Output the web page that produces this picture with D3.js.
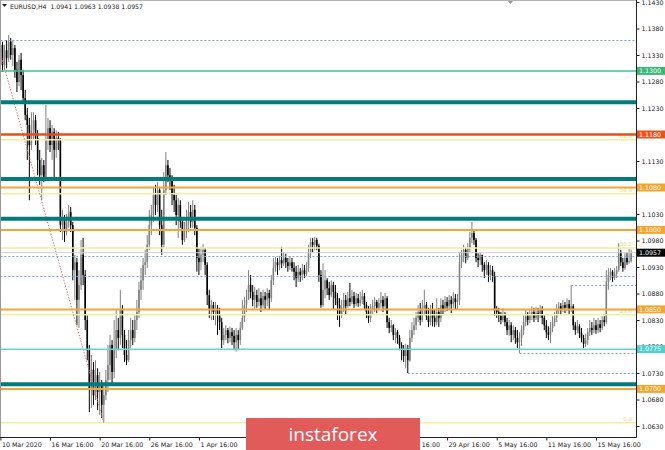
<!DOCTYPE html>
<html><head><meta charset="utf-8">
<script src="https://cdn.jsdelivr.net/npm/d3@7"></script>
<style>
html,body{margin:0;padding:0;background:#fff;}
svg{display:block;font-family:"DejaVu Sans",sans-serif;}
</style>
</head><body>
<svg id="chart" width="665" height="450"></svg>
<script>
// ---------------- DATA ----------------
const symbol = "EURUSD,H4";
const firstOpen = 1.1321;
const closes = [
1.1349,1.1311,1.1339,1.1324,1.1355,1.1330,1.1343,1.1302,1.1279,1.1321,
1.1292,1.1249,1.1217,1.1198,1.1160,1.1188,1.1207,1.1173,1.1132,1.1103,
1.1122,1.1098,1.1170,1.1192,1.1160,1.1185,1.1151,1.1173,1.1170,1.1009,
1.1022,1.0996,1.1015,1.1034,1.1009,1.0924,1.0939,1.0868,1.0896,1.0953,
1.0915,1.0830,1.0773,1.0698,1.0736,1.0688,1.0726,1.0694,1.0707,1.0670,
1.0688,1.0717,1.0745,1.0783,1.0732,1.0773,1.0811,1.0796,1.0849,1.0802,
1.0764,1.0754,1.0792,1.0811,1.0796,1.0830,1.0845,1.0887,1.0905,1.0934,
1.0939,1.0972,1.1009,1.1028,1.1066,1.1047,1.1075,1.1009,1.0972,1.1075,
1.1122,1.1103,1.1094,1.1066,1.1056,1.1028,1.1047,1.1015,1.0981,1.1000,
1.1022,1.1034,1.1015,1.1038,1.1004,1.0947,1.0939,1.0953,1.0962,1.0934,
1.0877,1.0849,1.0858,1.0845,1.0853,1.0839,1.0826,1.0792,1.0802,1.0811,
1.0796,1.0807,1.0800,1.0788,1.0802,1.0792,1.0815,1.0834,1.0858,1.0868,
1.0896,1.0883,1.0868,1.0877,1.0864,1.0871,1.0858,1.0875,1.0868,1.0881,
1.0871,1.0905,1.0928,1.0939,1.0934,1.0943,1.0937,1.0947,1.0939,1.0932,
1.0939,1.0928,1.0921,1.0909,1.0921,1.0915,1.0924,1.0917,1.0928,1.0958,
1.0977,1.0972,1.0981,1.0970,1.0915,1.0858,1.0887,1.0905,1.0890,1.0877,
1.0896,1.0883,1.0871,1.0858,1.0839,1.0853,1.0868,1.0856,1.0871,1.0864,
1.0875,1.0860,1.0871,1.0862,1.0868,1.0875,1.0858,1.0845,1.0834,1.0849,
1.0856,1.0864,1.0853,1.0862,1.0868,1.0856,1.0871,1.0826,1.0815,1.0820,
1.0802,1.0807,1.0796,1.0783,1.0773,1.0762,1.0777,1.0754,1.0796,1.0811,
1.0820,1.0834,1.0845,1.0830,1.0853,1.0858,1.0837,1.0826,1.0849,1.0834,
1.0826,1.0845,1.0834,1.0858,1.0849,1.0864,1.0856,1.0868,1.0860,1.0871,
1.0864,1.0868,1.0939,1.0953,1.0962,1.0947,1.0966,1.0985,1.0994,1.0981,
1.0947,1.0943,1.0953,1.0934,1.0924,1.0934,1.0915,1.0924,1.0913,1.0849,
1.0845,1.0838,1.0830,1.0841,1.0826,1.0811,1.0820,1.0802,1.0811,1.0796,
1.0788,1.0796,1.0811,1.0826,1.0838,1.0830,1.0839,1.0845,1.0834,1.0843,
1.0838,1.0849,1.0834,1.0820,1.0807,1.0802,1.0815,1.0826,1.0834,1.0849,
1.0856,1.0849,1.0858,1.0853,1.0860,1.0849,1.0856,1.0820,1.0811,1.0818,
1.0805,1.0796,1.0785,1.0792,1.0807,1.0815,1.0811,1.0820,1.0811,1.0822,
1.0815,1.0830,1.0826,1.0902,1.0915,1.0921,1.0909,1.0917,1.0924,1.0958,
1.0939,1.0928,1.0947,1.0939,1.0941,1.0957];
const highs = [
1.1373,1.1355,1.1349,1.1358,1.1368,1.1362,1.1358,1.1349,1.1317,1.1330,
1.1334,1.1302,1.1264,1.1230,1.1211,1.1222,1.1222,1.1217,1.1188,1.1151,
1.1136,1.1132,1.1236,1.1211,1.1207,1.1198,1.1192,1.1188,1.1185,1.1173,
1.1038,1.1028,1.1030,1.1047,1.1043,1.1015,1.0953,1.0947,1.0924,1.0981,
1.0985,1.0924,1.0839,1.0783,1.0764,1.0751,1.0754,1.0739,1.0732,1.0717,
1.0711,1.0736,1.0783,1.0802,1.0792,1.0830,1.0849,1.0834,1.0887,1.0858,
1.0811,1.0792,1.0811,1.0834,1.0830,1.0839,1.0868,1.0902,1.0928,1.0947,
1.0962,1.0990,1.1038,1.1047,1.1079,1.1085,1.1090,1.1079,1.1038,1.1109,
1.1147,1.1132,1.1117,1.1103,1.1085,1.1066,1.1060,1.1056,1.1022,1.1015,
1.1038,1.1053,1.1047,1.1056,1.1047,1.1009,1.0966,1.0968,1.0973,1.0966,
1.0939,1.0887,1.0868,1.0864,1.0864,1.0858,1.0853,1.0834,1.0815,1.0820,
1.0815,1.0818,1.0815,1.0811,1.0815,1.0811,1.0826,1.0868,1.0873,1.0887,
1.0924,1.0915,1.0896,1.0892,1.0887,1.0890,1.0883,1.0887,1.0883,1.0890,
1.0887,1.0915,1.0947,1.0949,1.0947,1.0951,1.0968,1.0958,1.0955,1.0947,
1.0951,1.0947,1.0939,1.0932,1.0934,1.0928,1.0936,1.0934,1.0939,1.0972,
1.0985,1.0985,1.0987,1.0985,1.0974,1.0924,1.0937,1.0924,1.0909,1.0902,
1.0905,1.0902,1.0896,1.0881,1.0871,1.0868,1.0881,1.0877,1.0883,1.0900,
1.0887,1.0883,1.0881,1.0879,1.0883,1.0887,1.0881,1.0864,1.0856,1.0860,
1.0868,1.0873,1.0868,1.0871,1.0883,1.0875,1.0881,1.0875,1.0834,1.0830,
1.0822,1.0815,1.0811,1.0802,1.0788,1.0783,1.0785,1.0783,1.0811,1.0826,
1.0834,1.0845,1.0858,1.0862,1.0868,1.0887,1.0864,1.0853,1.0858,1.0862,
1.0849,1.0871,1.0853,1.0871,1.0868,1.0875,1.0873,1.0877,1.0875,1.0883,
1.0879,1.0879,1.0956,1.0962,1.0972,1.0966,1.0975,1.0996,1.1015,1.1000,
1.0985,1.0956,1.0958,1.0953,1.0939,1.0943,1.0939,1.0934,1.0932,1.0921,
1.0856,1.0853,1.0845,1.0853,1.0845,1.0834,1.0830,1.0826,1.0820,1.0817,
1.0811,1.0807,1.0820,1.0839,1.0849,1.0845,1.0849,1.0856,1.0853,1.0855,
1.0853,1.0858,1.0856,1.0839,1.0830,1.0818,1.0826,1.0837,1.0845,1.0860,
1.0864,1.0862,1.0868,1.0864,1.0871,1.0868,1.0896,1.0860,1.0826,1.0830,
1.0822,1.0815,1.0802,1.0804,1.0815,1.0830,1.0826,1.0834,1.0830,1.0834,
1.0830,1.0837,1.0837,1.0924,1.0928,1.0928,1.0924,1.0928,1.0932,1.0975,
1.0962,1.0947,1.0956,1.0958,1.0964,1.0963];
const lows = [
1.1292,1.1298,1.1302,1.1305,1.1317,1.1321,1.1309,1.1287,1.1260,1.1271,
1.1264,1.1241,1.1207,1.1132,1.1056,1.1151,1.1170,1.1160,1.1103,1.1085,
1.1056,1.1090,1.1094,1.1151,1.1147,1.1132,1.1098,1.1136,1.1151,1.0996,
1.0981,1.0977,1.0990,1.1004,1.0996,1.0905,1.0868,1.0820,1.0815,1.0887,
1.0896,1.0811,1.0754,1.0656,1.0664,1.0670,1.0679,1.0660,1.0651,1.0645,
1.0636,1.0679,1.0694,1.0717,1.0707,1.0720,1.0758,1.0773,1.0783,1.0777,
1.0751,1.0745,1.0751,1.0777,1.0783,1.0788,1.0811,1.0834,1.0868,1.0887,
1.0915,1.0928,1.0962,1.0990,1.1015,1.1028,1.1034,1.0990,1.0953,1.0966,
1.1066,1.1090,1.1075,1.1047,1.1034,1.1009,1.0985,1.1004,1.0972,1.0977,
1.0985,1.0996,1.1004,1.1004,1.0990,1.0921,1.0915,1.0924,1.0939,1.0915,
1.0858,1.0834,1.0830,1.0830,1.0820,1.0802,1.0811,1.0777,1.0783,1.0792,
1.0786,1.0788,1.0783,1.0773,1.0770,1.0773,1.0783,1.0811,1.0826,1.0845,
1.0868,1.0871,1.0856,1.0849,1.0853,1.0856,1.0845,1.0853,1.0849,1.0856,
1.0849,1.0864,1.0896,1.0921,1.0915,1.0924,1.0928,1.0932,1.0928,1.0921,
1.0924,1.0921,1.0905,1.0892,1.0902,1.0902,1.0905,1.0909,1.0913,1.0921,
1.0947,1.0958,1.0962,1.0962,1.0902,1.0853,1.0855,1.0871,1.0877,1.0868,
1.0873,1.0849,1.0858,1.0830,1.0817,1.0834,1.0845,1.0841,1.0853,1.0856,
1.0860,1.0853,1.0856,1.0855,1.0856,1.0860,1.0849,1.0834,1.0824,1.0826,
1.0839,1.0845,1.0843,1.0849,1.0853,1.0845,1.0849,1.0815,1.0805,1.0807,
1.0792,1.0786,1.0785,1.0773,1.0754,1.0751,1.0739,1.0730,1.0751,1.0788,
1.0802,1.0811,1.0826,1.0820,1.0826,1.0839,1.0830,1.0817,1.0820,1.0818,
1.0817,1.0820,1.0817,1.0826,1.0839,1.0845,1.0847,1.0849,1.0843,1.0853,
1.0849,1.0849,1.0858,1.0928,1.0939,1.0937,1.0943,1.0958,1.0975,1.0972,
1.0939,1.0930,1.0934,1.0921,1.0909,1.0915,1.0902,1.0905,1.0902,1.0838,
1.0834,1.0826,1.0822,1.0826,1.0818,1.0802,1.0800,1.0788,1.0792,1.0785,
1.0777,1.0768,1.0781,1.0802,1.0818,1.0820,1.0824,1.0830,1.0826,1.0830,
1.0826,1.0834,1.0822,1.0811,1.0796,1.0792,1.0786,1.0807,1.0818,1.0826,
1.0841,1.0839,1.0845,1.0843,1.0847,1.0841,1.0845,1.0811,1.0802,1.0805,
1.0796,1.0788,1.0777,1.0779,1.0783,1.0800,1.0802,1.0805,1.0804,1.0805,
1.0807,1.0811,1.0818,1.0822,1.0887,1.0905,1.0902,1.0905,1.0909,1.0921,
1.0932,1.0921,1.0924,1.0934,1.0936,1.0938];

// time-axis labels visible in the picture (the ones hidden under the logo are omitted)
const xTickIndex  = [0, 24, 48, 72, 96, 192, 216, 240, 264, 288];
const xTickLabels = ["10 Mar 2020","16 Mar 16:00","20 Mar 16:00","26 Mar 16:00","1 Apr 16:00",
                     "23 Apr 16:00","29 Apr 16:00","5 May 16:00","11 May 16:00","15 May 16:00"];
const yTicks = [1.1430,1.1380,1.1330,1.1280,1.1230,1.1130,1.1030,1.0980,
                1.0930,1.0880,1.0830,1.0780,1.0730,1.0680,1.0630];

// horizontal levels
const levelPrices = [1.1300, 1.1241, 1.1180, 1.1096, 1.1080, 1.1021, 1.1000, 1.0850, 1.0775, 1.0709, 1.0700];
const levelKinds  = ["green","teal","red","teal","orange","teal","orange","orange","cyan","teal","orange"];
const labelledLevels = [1.1300, 1.1180, 1.1080, 1.1000, 1.0850, 1.0775, 1.0700];
const labelledKinds  = ["green","red","orange","orange","orange","cyan","orange"];
// dotted reference lines (start bar index)
const dottedPrices = [1.1358, 1.0950, 1.0913, 1.0896, 1.0768, 1.0730];
const dottedStart  = [0, 0, 0, 276, 251, 197];
// Fibonacci retracement
const fibLevels = [0, 23.6, 38.2, 50.0, 61.8, 100];
const fibLowPrice = 1.0636, fibHighPrice = 1.1500;
const fibLowIndex = 50, fibHighIndex = -12;
const logoText = "instaforex";

// ---------------- STYLES ----------------
const kindColor = {green:"#45c28a", teal:"#047b7b", red:"#e2511c", orange:"#f2a633", cyan:"#66d4d2"};
const kindWidth = {green:1.5, teal:4, red:2.5, orange:2, cyan:1.5};
const boxColor  = {green:"#3cb878", red:"#e8531c", orange:"#f5a52a", cyan:"#4fd0cc"};

const W = 665, H = 450, plotR = 636, plotB = 437;
const svg = d3.select("#chart");
const n = closes.length;
const opens = closes.map((c,i)=> i===0 ? firstOpen : closes[i-1]);

const x = d3.scaleLinear().domain([0, n-1]).range([0.4, 0.4 + (n-1)*2.068]);
const y = d3.scaleLinear().domain([1.0630, 1.1430]).range([426, 2]);

svg.append("rect").attr("width",W).attr("height",H).attr("fill","#fff");

svg.append("defs").append("clipPath").attr("id","plot")
  .append("rect").attr("x",0).attr("y",0).attr("width",plotR).attr("height",plotB);

const plot = svg.append("g").attr("clip-path","url(#plot)");

// candles
const cg = plot.append("g");
d3.range(n).forEach(i=>{
  const o=opens[i], c=closes[i];
  const hi=Math.max(highs[i],o,c), lo=Math.min(lows[i],o,c);
  const col = c>=o ? "#808080" : "#000";
  const cx = x(i);
  cg.append("line").attr("x1",cx).attr("x2",cx).attr("y1",y(hi)).attr("y2",y(lo))
    .attr("stroke",col).attr("stroke-width",1);
  const top=y(Math.max(o,c)), bot=y(Math.min(o,c));
  cg.append("rect").attr("x",cx-0.8).attr("width",1.6)
    .attr("y",top).attr("height",Math.max(0.8,bot-top)).attr("fill",col);
});

// dotted lines
dottedPrices.forEach((p,k)=>{
  plot.append("line").attr("x1",x(dottedStart[k])).attr("x2",plotR)
    .attr("y1",Math.round(y(p))+0.5).attr("y2",Math.round(y(p))+0.5)
    .attr("stroke","#7fa8cc").attr("stroke-width",1).attr("stroke-dasharray","2,2");
});

// fib levels
const fibPrice = r => fibLowPrice + (fibHighPrice-fibLowPrice)*r/100;
fibLevels.forEach(r=>{
  const yy = y(fibPrice(r));
  plot.append("line").attr("x1",0).attr("x2",plotR).attr("y1",yy).attr("y2",yy)
    .attr("stroke","#f2eea0").attr("stroke-width",1.5);
  if (yy > 8) {
    plot.append("text").attr("x",632).attr("y",yy-2).attr("text-anchor","end")
      .attr("font-size",5.5).attr("fill","#e6dc6c").text(r.toFixed(1));
  }
});
// fib trend line
plot.append("line")
  .attr("x1",x(fibHighIndex)).attr("y1",y(fibHighPrice))
  .attr("x2",x(fibLowIndex)).attr("y2",y(fibLowPrice))
  .attr("stroke","#c08484").attr("stroke-width",1).attr("stroke-dasharray","1.5,1.5");

// bid line
const last = n-1;
plot.append("line").attr("x1",0).attr("x2",plotR)
  .attr("y1",y(closes[last])).attr("y2",y(closes[last]))
  .attr("stroke","#cfcfcf").attr("stroke-width",1);

// solid levels
levelPrices.forEach((p,k)=>{
  const kd = levelKinds[k];
  plot.append("line").attr("x1",0).attr("x2",plotR).attr("y1",y(p)).attr("y2",y(p))
    .attr("stroke",kindColor[kd]).attr("stroke-width",kindWidth[kd]);
});

// chart shift marker
plot.append("path").attr("d",`M507,0 L514,0 L510.5,4 Z`).attr("fill","#9a9a9a");

// borders
svg.append("line").attr("x1",0).attr("x2",plotR).attr("y1",0.5).attr("y2",0.5).attr("stroke","#b5b5b5");
svg.append("line").attr("x1",0.5).attr("x2",0.5).attr("y1",0).attr("y2",plotB).attr("stroke","#9a9a9a");
svg.append("line").attr("x1",plotR+0.5).attr("x2",plotR+0.5).attr("y1",0).attr("y2",plotB+0.5).attr("stroke","#222");
svg.append("line").attr("x1",0).attr("x2",plotR+0.5).attr("y1",plotB+0.5).attr("y2",plotB+0.5).attr("stroke","#222");

// right axis
const ya = svg.append("g").attr("transform",`translate(${plotR+0.5},0)`)
  .call(d3.axisRight(y).tickValues(yTicks).tickFormat(d3.format(".4f")).tickSize(3).tickPadding(2));
ya.select(".domain").remove();
ya.selectAll("line").attr("stroke","#222");
ya.selectAll("text").attr("font-size",6.3).attr("fill","#222").attr("font-family","DejaVu Sans");

// bottom axis
const xa = svg.append("g").attr("transform",`translate(0,${plotB+0.5})`)
  .call(d3.axisBottom(x).tickValues(xTickIndex).tickFormat((d,i)=>xTickLabels[i]).tickSize(3).tickPadding(2));
xa.select(".domain").remove();
xa.selectAll("line").attr("stroke","#222");
xa.selectAll("text").attr("text-anchor","start").attr("dx",1).attr("font-size",6.3)
  .attr("fill","#222").attr("font-family","DejaVu Sans");

// level label boxes
const fmt = d3.format(".4f");
function box(p, bg){
  const yy = y(p);
  svg.append("rect").attr("x",plotR+1).attr("y",yy-4).attr("width",W-plotR-1).attr("height",8).attr("fill",bg);
  svg.append("text").attr("x",plotR+3).attr("y",yy).attr("dy","0.35em")
    .attr("font-size",6.3).attr("fill","#fff").text(fmt(p));
}
labelledLevels.forEach((p,k)=>box(p, boxColor[labelledKinds[k]]));
box(closes[last], "#000");

// header
const hdr = svg.append("g");
hdr.append("path").attr("d","M2,4 L7,4 L4.5,7 Z").attr("fill","#222");
hdr.append("text").attr("x",10).attr("y",8.5).attr("font-size",6.2).attr("fill","#222")
  .attr("xml:space","preserve")
  .text(`${symbol}  ${fmt(opens[last])} ${fmt(highs[last])} ${fmt(lows[last])} ${fmt(closes[last])}`);

// logo
svg.append("rect").attr("x",246).attr("y",418).attr("width",174).attr("height",32).attr("fill","#e15b5b");
svg.append("text").attr("x",333).attr("y",441).attr("text-anchor","middle")
  .attr("font-family","'Open Sans',sans-serif").attr("font-size",19).attr("fill","#fff").text(logoText);
</script>
</body></html>
